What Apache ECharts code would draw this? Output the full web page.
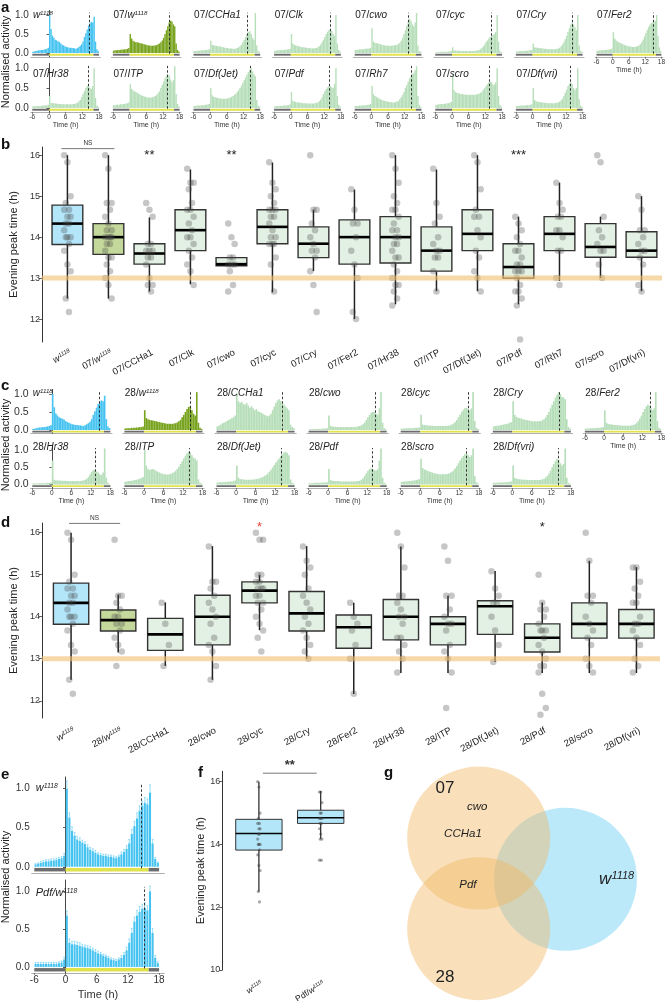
<!DOCTYPE html>
<html><head><meta charset="utf-8">
<script src="https://cdn.jsdelivr.net/npm/echarts@6/dist/echarts.min.js"></script>
<style>html,body{margin:0;padding:0;background:#fff}#c{width:668px;height:1001px}</style>
</head><body><div id="c"></div>
<script>
// ================= DATA =================
// 30-min activity bins from -6 h to 18 h (48 bins)
const binCentres = Array.from({length: 48}, (_, i) => -5.75 + 0.5 * i);
const xTickVals = [-6, 0, 6, 12, 18];
const yTickVals = [0, 0.5, 1];
const ldPhases = [[-6, 0, 0], [0, 16, 1], [16, 18, 0]]; // start, end, light?

const act_w1118 = [0.03,0.04,0.05,0.06,0.07,0.07,0.08,0.08,0.09,0.10,0.11,0.14, 1.00,0.63,0.46,0.40,0.35,0.33,0.31,0.29,0.25,0.22,0.20,0.18, 0.16,0.15,0.14,0.14,0.13,0.13,0.12,0.11,0.13,0.16,0.19,0.23, 0.30,0.42,0.52,0.62,0.72,0.78,0.82,0.80,0.95,0.30,0.10,0.05];
const act07_w1118 = [0.06,0.07,0.07,0.08,0.08,0.08,0.09,0.09,0.10,0.10,0.11,0.13, 0.50,0.38,0.32,0.30,0.28,0.28,0.27,0.26,0.25,0.24,0.23,0.22, 0.21,0.20,0.20,0.19,0.19,0.20,0.20,0.21,0.23,0.25,0.28,0.33, 0.40,0.50,0.60,0.70,0.80,0.85,0.83,0.75,0.70,0.25,0.08,0.04];
const act07_CCHa1 = [0.05,0.05,0.06,0.06,0.06,0.07,0.07,0.07,0.08,0.08,0.09,0.10, 0.32,0.22,0.20,0.20,0.19,0.18,0.18,0.17,0.16,0.15,0.14,0.13, 0.13,0.12,0.12,0.12,0.11,0.11,0.12,0.13,0.15,0.18,0.22,0.28, 0.35,0.42,0.50,0.55,0.57,0.50,0.40,0.35,1.05,0.20,0.06,0.03];
const act07_Clk = [0.06,0.06,0.07,0.07,0.07,0.08,0.08,0.08,0.09,0.09,0.10,0.11, 0.50,0.25,0.22,0.20,0.19,0.18,0.17,0.16,0.15,0.15,0.14,0.14, 0.13,0.13,0.12,0.12,0.12,0.13,0.13,0.15,0.18,0.22,0.28,0.35, 0.42,0.50,0.56,0.60,0.62,0.58,0.50,0.45,1.00,0.25,0.08,0.04];
const act07_cwo = [0.08,0.08,0.09,0.09,0.10,0.10,0.10,0.11,0.11,0.12,0.12,0.14, 0.65,0.30,0.27,0.26,0.25,0.24,0.23,0.22,0.21,0.20,0.20,0.19, 0.19,0.19,0.19,0.20,0.20,0.21,0.22,0.24,0.27,0.32,0.40,0.50, 0.60,0.72,0.82,0.90,0.85,0.75,0.70,0.80,1.05,0.20,0.05,0.03];
const act07_cyc = [0.02,0.02,0.02,0.03,0.03,0.03,0.03,0.03,0.03,0.04,0.04,0.05, 0.15,0.07,0.06,0.06,0.06,0.06,0.05,0.05,0.05,0.05,0.05,0.05, 0.05,0.05,0.05,0.05,0.06,0.06,0.07,0.08,0.10,0.13,0.17,0.22, 0.28,0.33,0.38,0.42,0.45,0.47,0.50,0.55,1.00,0.30,0.06,0.02];
const act07_Cry = [0.04,0.04,0.05,0.05,0.05,0.05,0.06,0.06,0.06,0.07,0.07,0.08, 0.25,0.15,0.14,0.14,0.13,0.13,0.12,0.12,0.11,0.11,0.10,0.10, 0.10,0.10,0.10,0.10,0.10,0.11,0.12,0.14,0.17,0.22,0.28,0.36, 0.45,0.55,0.65,0.75,0.80,0.75,0.68,0.60,1.00,0.20,0.06,0.03];
const act07_Fer2 = [0.06,0.06,0.07,0.07,0.07,0.08,0.08,0.08,0.09,0.09,0.10,0.12, 0.55,0.38,0.33,0.30,0.28,0.26,0.25,0.23,0.22,0.20,0.19,0.18, 0.17,0.17,0.16,0.16,0.16,0.17,0.18,0.20,0.23,0.28,0.35,0.43, 0.52,0.60,0.68,0.74,0.78,0.80,0.82,0.85,1.00,0.45,0.15,0.05];
const act07_Hr38 = [0.04,0.04,0.04,0.05,0.05,0.05,0.05,0.06,0.06,0.06,0.07,0.08, 0.30,0.13,0.12,0.12,0.11,0.11,0.10,0.10,0.10,0.10,0.09,0.09, 0.09,0.09,0.09,0.09,0.09,0.10,0.10,0.11,0.13,0.16,0.20,0.27, 0.35,0.42,0.50,0.55,0.55,0.50,0.48,0.55,1.00,0.25,0.06,0.03];
const act07_ITP = [0.07,0.07,0.08,0.08,0.08,0.09,0.09,0.10,0.10,0.11,0.12,0.14, 0.60,0.48,0.44,0.42,0.40,0.38,0.36,0.34,0.32,0.30,0.29,0.28, 0.27,0.26,0.26,0.26,0.27,0.28,0.30,0.33,0.37,0.42,0.50,0.58, 0.66,0.74,0.80,0.85,0.82,0.72,0.65,0.70,1.05,0.35,0.10,0.04];
const act07_DfJet = [0.05,0.05,0.06,0.06,0.06,0.07,0.07,0.07,0.08,0.08,0.09,0.10, 0.50,0.32,0.28,0.27,0.26,0.25,0.24,0.24,0.23,0.23,0.23,0.23, 0.24,0.25,0.26,0.28,0.30,0.33,0.36,0.40,0.45,0.50,0.56,0.63, 0.70,0.77,0.84,0.90,0.96,1.00,0.92,0.85,0.80,0.20,0.06,0.03];
const act07_Pdf = [0.04,0.04,0.05,0.05,0.05,0.05,0.06,0.06,0.06,0.07,0.07,0.09, 0.40,0.18,0.16,0.15,0.14,0.14,0.13,0.13,0.12,0.12,0.12,0.11, 0.11,0.11,0.11,0.11,0.11,0.12,0.13,0.14,0.17,0.21,0.27,0.35, 0.42,0.48,0.52,0.55,0.55,0.52,0.50,0.60,1.00,0.30,0.08,0.03];
const act07_Rh7 = [0.05,0.05,0.05,0.06,0.06,0.06,0.07,0.07,0.07,0.08,0.08,0.10, 0.55,0.35,0.30,0.28,0.26,0.24,0.22,0.20,0.19,0.18,0.17,0.16, 0.15,0.15,0.14,0.14,0.14,0.15,0.16,0.18,0.22,0.27,0.33,0.40, 0.50,0.58,0.66,0.74,0.80,0.85,0.88,0.95,1.05,0.30,0.08,0.03];
const act07_scro = [0.08,0.08,0.09,0.09,0.10,0.10,0.10,0.11,0.11,0.12,0.13,0.15, 0.85,0.45,0.40,0.38,0.37,0.36,0.35,0.35,0.34,0.34,0.33,0.33, 0.33,0.33,0.33,0.33,0.33,0.34,0.35,0.36,0.38,0.41,0.45,0.50, 0.55,0.60,0.64,0.66,0.65,0.60,0.58,0.65,1.00,0.30,0.08,0.04];
const act07_Dfvri = [0.05,0.05,0.05,0.06,0.06,0.06,0.06,0.07,0.07,0.07,0.08,0.09, 0.50,0.20,0.17,0.16,0.15,0.15,0.14,0.14,0.13,0.13,0.12,0.12, 0.12,0.12,0.12,0.12,0.12,0.13,0.14,0.16,0.19,0.23,0.30,0.38, 0.46,0.55,0.60,0.65,0.60,0.50,0.45,0.50,1.00,0.22,0.06,0.03];

const act28_w1118 = [0.04,0.05,0.05,0.05,0.06,0.06,0.06,0.07,0.07,0.08,0.08,0.10, 0.55,0.33,0.30,0.28,0.27,0.26,0.25,0.24,0.23,0.22,0.21,0.20, 0.19,0.18,0.17,0.17,0.17,0.17,0.18,0.19,0.21,0.24,0.28,0.35, 0.42,0.50,0.58,0.64,0.65,0.55,0.45,0.40,1.05,0.20,0.06,0.03];
const act28_CCHa1 = [0.10,0.12,0.15,0.18,0.20,0.22,0.25,0.28,0.30,0.33,0.35,0.40, 1.00,0.80,0.75,0.78,0.72,0.70,0.75,0.68,0.62,0.66,0.60,0.55, 0.58,0.52,0.50,0.48,0.45,0.42,0.40,0.38,0.40,0.45,0.55,0.65, 0.75,0.82,0.85,0.80,0.75,0.70,0.65,0.60,0.55,0.15,0.08,0.05];
const act28_cwo = [0.02,0.02,0.02,0.03,0.03,0.03,0.03,0.03,0.04,0.04,0.04,0.05, 0.40,0.12,0.10,0.09,0.09,0.08,0.08,0.08,0.08,0.08,0.08,0.08, 0.08,0.08,0.08,0.08,0.08,0.09,0.10,0.11,0.13,0.16,0.21,0.28, 0.35,0.42,0.48,0.50,0.50,0.45,0.42,0.60,1.05,0.20,0.05,0.02];
const act28_cyc = [0.04,0.04,0.04,0.05,0.05,0.05,0.05,0.05,0.06,0.06,0.06,0.07, 0.42,0.15,0.14,0.13,0.13,0.12,0.12,0.12,0.11,0.11,0.11,0.11, 0.11,0.11,0.11,0.11,0.12,0.12,0.13,0.15,0.18,0.22,0.28,0.35, 0.42,0.50,0.56,0.60,0.62,0.58,0.55,0.60,1.05,0.25,0.06,0.03];
const act28_Cry = [0.10,0.11,0.12,0.12,0.13,0.14,0.15,0.16,0.17,0.18,0.20,0.22, 0.80,0.42,0.36,0.34,0.33,0.32,0.30,0.29,0.28,0.27,0.26,0.25, 0.24,0.24,0.24,0.24,0.24,0.25,0.27,0.30,0.35,0.42,0.50,0.60, 0.70,0.80,0.90,0.98,1.05,1.00,0.92,0.90,0.85,0.30,0.08,0.04];
const act28_Fer2 = [0.04,0.04,0.04,0.05,0.05,0.05,0.05,0.06,0.06,0.06,0.07,0.08, 0.55,0.20,0.17,0.16,0.15,0.15,0.14,0.14,0.13,0.13,0.12,0.12, 0.12,0.12,0.12,0.12,0.12,0.13,0.14,0.16,0.20,0.25,0.32,0.40, 0.50,0.58,0.65,0.70,0.68,0.60,0.55,0.60,1.05,0.25,0.06,0.03];
const act28_Hr38 = [0.03,0.03,0.03,0.03,0.04,0.04,0.04,0.04,0.04,0.05,0.05,0.06, 0.70,0.14,0.12,0.12,0.12,0.11,0.11,0.11,0.11,0.10,0.10,0.10, 0.10,0.10,0.10,0.10,0.10,0.10,0.11,0.12,0.14,0.17,0.22,0.30, 0.37,0.42,0.42,0.38,0.35,0.30,0.28,0.35,1.05,0.20,0.05,0.02];
const act28_ITP = [0.08,0.09,0.10,0.10,0.11,0.12,0.13,0.14,0.15,0.17,0.19,0.22, 1.00,0.55,0.45,0.42,0.44,0.45,0.43,0.40,0.37,0.35,0.33,0.31, 0.30,0.29,0.29,0.30,0.31,0.33,0.36,0.40,0.45,0.52,0.60,0.68, 0.76,0.84,0.90,0.95,0.93,0.85,0.78,0.75,0.70,0.15,0.05,0.03];
const act28_DfJet = [0.06,0.06,0.07,0.07,0.07,0.08,0.08,0.08,0.09,0.09,0.10,0.12, 0.55,0.20,0.16,0.15,0.15,0.14,0.14,0.14,0.14,0.14,0.15,0.15, 0.16,0.17,0.18,0.20,0.22,0.25,0.28,0.32,0.37,0.43,0.50,0.57, 0.64,0.70,0.76,0.82,0.88,0.93,0.95,0.92,0.85,0.15,0.05,0.03];
const act28_Pdf = [0.04,0.04,0.04,0.05,0.05,0.05,0.05,0.05,0.06,0.06,0.06,0.07, 0.45,0.13,0.11,0.10,0.10,0.10,0.10,0.09,0.09,0.09,0.09,0.09, 0.09,0.09,0.09,0.09,0.09,0.10,0.10,0.11,0.14,0.18,0.25,0.33, 0.40,0.45,0.47,0.45,0.42,0.40,0.45,0.70,1.05,0.20,0.05,0.02];
const act28_scro = [0.08,0.08,0.09,0.09,0.10,0.10,0.11,0.11,0.12,0.13,0.14,0.16, 0.75,0.48,0.44,0.42,0.40,0.38,0.36,0.35,0.33,0.32,0.31,0.30, 0.30,0.30,0.30,0.30,0.31,0.32,0.34,0.37,0.41,0.47,0.54,0.62, 0.70,0.77,0.83,0.88,0.90,0.85,0.80,0.85,1.05,0.25,0.07,0.03];
const act28_Dfvri = [0.05,0.05,0.05,0.06,0.06,0.06,0.06,0.07,0.07,0.07,0.08,0.09, 0.55,0.20,0.17,0.16,0.15,0.15,0.14,0.14,0.14,0.13,0.13,0.13, 0.13,0.13,0.13,0.13,0.13,0.14,0.15,0.17,0.20,0.25,0.32,0.40, 0.50,0.60,0.68,0.75,0.72,0.62,0.55,0.60,1.05,0.20,0.05,0.02];

const actPdf_w1118 = [0.04,0.04,0.04,0.04,0.04,0.04,0.04,0.04,0.04,0.05,0.06,0.10, 0.68,0.32,0.30,0.30,0.29,0.28,0.27,0.26,0.25,0.24,0.22,0.20, 0.18,0.17,0.15,0.14,0.12,0.10,0.09,0.08,0.10,0.12,0.16,0.22, 0.32,0.45,0.60,0.68,0.73,0.77,0.78,0.75,1.00,0.45,0.12,0.05];
const err_w1118 = [0.01,0.01,0.02,0.02,0.02,0.02,0.02,0.02,0.02,0.02,0.02,0.03, 0.10,0.06,0.05,0.04,0.04,0.04,0.03,0.03,0.03,0.03,0.03,0.03, 0.02,0.02,0.02,0.02,0.02,0.02,0.02,0.02,0.02,0.03,0.03,0.04, 0.05,0.06,0.06,0.07,0.06,0.06,0.07,0.07,0.10,0.05,0.02,0.01];
const errPdf_w1118 = [0.02,0.02,0.02,0.02,0.02,0.02,0.02,0.02,0.02,0.02,0.02,0.03, 0.06,0.05,0.04,0.04,0.04,0.04,0.03,0.03,0.03,0.03,0.03,0.03, 0.03,0.02,0.02,0.02,0.02,0.02,0.02,0.02,0.02,0.03,0.03,0.04, 0.05,0.06,0.06,0.07,0.07,0.06,0.07,0.06,0.07,0.06,0.03,0.02];

const aNames = ['w1118','07/w1118','07/CCHa1','07/Clk','07/cwo','07/cyc','07/Cry','07/Fer2','07/Hr38','07/ITP','07/Df(Jet)','07/Pdf','07/Rh7','07/scro','07/Df(vri)'];
const aProfiles = [act_w1118, act07_w1118, act07_CCHa1, act07_Clk, act07_cwo, act07_cyc, act07_Cry, act07_Fer2, act07_Hr38, act07_ITP, act07_DfJet, act07_Pdf, act07_Rh7, act07_scro, act07_Dfvri];
const aPeaks = [14.6, 14.1, 13.3, 14.3, 13.4, 14.3, 14.2, 15.0, 14.1, 13.6, 14.3, 13.7, 14.3, 13.4, 13.6];

const cNames = ['w1118','28/w1118','28/CCHa1','28/cwo','28/cyc','28/Cry','28/Fer2','28/Hr38','28/ITP','28/Df(Jet)','28/Pdf','28/scro','28/Df(vri)'];
const cProfiles = [act_w1118, act28_w1118, act28_CCHa1, act28_cwo, act28_cyc, act28_Cry, act28_Fer2, act28_Hr38, act28_ITP, act28_DfJet, act28_Pdf, act28_scro, act28_Dfvri];
const cPeaks = [14.5, 14.2, 14.2, 14.6, 14.7, 14.4, 14.5, 13.3, 14.0, 14.0, 13.6, 14.2, 14.2];

const eNames = ['w1118', 'Pdf/w1118'];
const eProfiles = [act_w1118, actPdf_w1118];
const eErrors = [err_w1118, errPdf_w1118];
const ePeaks = [14.65, 15.1];

// Box plots: [lower whisker, Q1, median, Q3, upper whisker]
const bNames = aNames;
const bBoxes = [[12.5,13.82,14.33,14.78,16.0],[12.5,13.58,14.0,14.33,16.0],[12.67,13.34,13.6,13.84,14.48],[12.85,13.67,14.17,14.67,15.65],[13.3,13.3,13.34,13.5,13.5],[12.65,13.84,14.25,14.67,15.82],[13.17,13.5,13.84,14.25,14.67],[12.0,13.34,14.0,14.42,15.16],[12.36,13.37,14.0,14.5,16.0],[12.68,13.17,13.67,14.25,15.65],[12.68,13.67,14.08,14.67,16.0],[12.36,13.0,13.27,13.84,14.5],[12.93,13.67,14.08,14.5,15.33],[13.0,13.51,13.76,14.33,14.5],[12.68,13.51,13.67,14.13,15.0]];
const pts_w1118 = [16.0,15.83,15.0,14.83,14.67,14.67,14.5,14.5,14.33,14.33,14.17,14.0,14.0,14.0,13.83,13.67,13.33,13.17,12.5,12.17];
const bPoints = [
  pts_w1118,
  [16.0,15.67,14.83,14.83,14.67,14.5,14.33,14.17,14.17,14.0,14.0,14.0,14.0,13.83,13.83,13.67,13.5,13.5,13.33,13.17,13.0,12.83,12.5],
  [14.83,14.67,14.5,13.83,13.83,13.67,13.67,13.67,13.5,13.5,13.33,13.0,12.83,12.83,12.67],
  [15.67,15.33,15.33,15.17,14.83,14.67,14.67,14.5,14.33,14.17,14.0,14.0,13.83,13.67,13.5,13.33,13.17,12.83],
  [14.33,14.0,13.83,13.5,13.5,13.33,13.33,13.33,13.17,12.83,12.67],
  [15.83,15.33,15.17,15.0,14.83,14.67,14.67,14.67,14.5,14.5,14.33,14.17,14.0,14.0,13.83,13.83,13.83,13.5,13.33,12.67],
  [16.0,14.67,14.67,14.33,14.17,14.0,13.83,13.67,13.67,13.5,13.17,12.83,12.17],
  [15.17,14.67,14.33,14.33,14.0,13.67,13.33,13.0,12.17,12.0],
  [16.0,15.67,15.33,15.0,14.83,14.67,14.67,14.5,14.33,14.17,14.17,14.0,14.0,13.83,13.83,13.67,13.5,13.5,13.33,13.17,13.0,12.83,12.83,12.67,12.5,12.33],
  [15.67,14.83,14.5,14.33,14.0,13.83,13.67,13.67,13.5,13.5,13.17,12.67],
  [16.0,15.83,15.17,14.67,14.5,14.5,14.17,14.0,13.67,13.5,13.17,13.0,12.67],
  [14.5,14.33,14.17,14.0,13.83,13.67,13.67,13.5,13.33,13.33,13.17,13.17,13.17,13.0,12.83,12.67,12.67,12.5,12.33,11.5],
  [15.33,14.83,14.67,14.5,14.5,14.17,14.17,14.0,13.67,13.67,13.0,12.83],
  [16.0,15.83,14.5,14.17,14.0,13.83,13.67,13.67,13.33,13.0],
  [15.0,14.67,14.17,14.17,14.0,13.83,13.67,13.67,13.5,13.33,12.83,12.67]
];
const bSigRanges = [[0,1],[2,2],[4,4],[11,11]];
const bSigText = ['NS','**','**','***'];
const bSigY = [16.16, 16.07, 16.07, 16.07];

const dNames = ['w1118','28/w1118','28/CCHa1','28/cwo','28/cyc','28/Cry','28/Fer2','28/Hr38','28/ITP','28/Df(Jet)','28/Pdf','28/scro','28/Df(vri)'];
const dBoxes = [[12.5,13.82,14.33,14.8,16.0],[13.15,13.66,13.92,14.16,14.53],[12.83,13.2,13.58,13.96,14.34],[12.5,13.33,14.0,14.51,15.68],[13.68,14.33,14.62,14.83,14.99],[13.0,13.66,14.08,14.6,15.68],[12.16,13.25,13.75,14.04,14.33],[12.66,13.45,14.0,14.41,15.67],[12.66,13.33,13.83,14.0,14.5],[12.93,13.58,14.25,14.38,15.09],[12.66,13.16,13.5,13.83,14.34],[12.66,13.49,13.83,14.33,15.33],[12.66,13.49,13.83,14.17,15.18]];
const dPoints = [
  pts_w1118,
  [15.83,14.5,14.5,14.33,14.17,14.0,14.0,13.83,13.83,13.67,13.5,13.33,13.17,12.83],
  [14.33,13.83,13.33,12.83],
  [15.67,14.83,14.83,14.67,14.5,14.33,14.17,14.0,13.83,13.5,13.33,13.17,12.83,12.5],
  [16.0,15.83,15.83,15.0,15.0,14.83,14.83,14.67,14.67,14.67,14.5,14.5,14.33,14.33,14.17,14.0,13.83,13.67,13.5,13.17],
  [15.67,15.33,15.17,15.0,14.67,14.5,14.33,14.17,14.0,13.83,13.67,13.5,13.33,13.17,13.0],
  [14.33,14.0,13.83,13.67,13.33,13.0,12.17],
  [16.0,15.67,15.17,14.5,14.5,14.33,14.17,14.0,14.0,13.83,13.5,13.5,13.33,13.17,13.0,12.67],
  [15.67,15.33,14.5,14.5,14.17,14.0,13.83,13.83,13.67,13.33,13.17,13.0,12.67,11.83],
  [15.08,14.67,14.5,14.33,14.33,14.0,13.67,13.33,12.92],
  [15.0,14.33,14.17,14.17,14.0,13.83,13.67,13.67,13.67,13.5,13.33,13.17,13.0,12.83,12.83,12.67,12.17,11.83,11.67],
  [16.0,15.33,14.5,14.5,14.33,14.0,13.83,13.67,13.5,13.33,13.0,12.83,12.67],
  [15.17,15.17,14.83,14.67,14.5,14.33,14.33,14.0,13.83,13.83,13.67,13.5,13.33,13.0,12.83,12.67]
];
const dSigRanges = [[0,1],[4,4],[10,10]];
const dSigText = ['NS','*','*'];
const dSigY = [16.22, 16.2, 16.2];
const dSigColor = ['#333','#e8423a','#222'];

const fNames = ['w1118','Pdf/w1118'];
const fBoxes = [[12.5,13.82,14.35,14.8,16.0],[14.18,14.67,14.85,15.09,15.7]];
const fPoints = [pts_w1118, [15.67,15.67,15.33,15.0,15.0,14.83,14.83,14.83,14.67,14.67,14.5,14.33,14.17,14.17,13.5,13.5]];
const fSigRanges = [[0,1]];
const fSigText = ['**'];
const fSigY = [16.27];

const refLineHour = 13;

// Venn (units of circle radius)
const vennSets = ['w1118','07','28'];
const vennCentres = [[1.214,0.057],[0,0.634],[0,-0.634]];
const vennRadius = [1.0, 1.0, 1.0];
const vennLabels = ['07','cwo','CCHa1','Pdf','w1118','28'];
const vennLabelPos = [[-0.47,1.33],[-0.02,1.07],[-0.22,0.69],[-0.15,-0.02],[1.93,0.06],[-0.47,-1.31]];

// ================= BUILD =================
const FONT = '"Liberation Sans", Arial, Helvetica, sans-serif';
const grids = [], xAxis = [], yAxis = [], series = [], graphic = [];

function isWild(n){ return n === 'w1118' || n === 'Pdf/w1118'; }
function isCtrl(n){ return /^\d\d\/w1118$/.test(n); }
function barColor(n){ return isWild(n) ? '#46c3f0' : isCtrl(n) ? '#78a31e' : '#b6deb9'; }
function boxFill(n){ return isWild(n) ? '#b4e6fa' : isCtrl(n) ? '#c4d89b' : '#e3f1e4'; }

function richStyles(fs){
  return {
    n:{fontSize:fs, fontFamily:FONT, fill:'#222', color:'#222'},
    i:{fontSize:fs, fontFamily:FONT, fontStyle:'italic', fill:'#222', color:'#222'},
    s:{fontSize:Math.round(fs*0.62*10)/10, fontFamily:FONT, fontStyle:'italic', fill:'#222', color:'#222', verticalAlign:'top'}
  };
}
function richTitle(name){
  let pre = '', gene = name;
  const k = name.indexOf('/');
  if (k >= 0){ pre = name.slice(0,k+1); gene = name.slice(k+1); }
  let s = pre ? (/^\d+\/$/.test(pre) ? '{n|'+pre+'}' : '{i|'+pre+'}') : '';
  s += gene === 'w1118' ? '{i|w}{s|1118}' : '{i|'+gene+'}';
  return s;
}
function richCat(name){
  if (name.endsWith('w1118')){
    const pre = name.slice(0, name.length-5);
    return (pre ? '{n|'+pre+'}' : '') + '{i|w}{s|1118}';
  }
  return '{n|'+name+'}';
}

function hist(o){
  const gi = grids.length;
  grids.push({left:o.left, top:o.top, width:o.width, height:o.height});
  const binPx = o.width / (o.xMax + 6.5) * 0.5;
  xAxis.push({gridIndex:gi, type:'value', min:-6.5, max:o.xMax,
    axisLine:{show:true, onZero:false, lineStyle:{color:'#777', width:0.6}},
    axisTick:{show:o.showX, length:2, customValues:xTickVals, lineStyle:{color:'#555', width:0.7}},
    axisLabel:{show:o.showX, customValues:xTickVals, fontSize:o.xFont, margin:o.xMargin, color:'#333', fontFamily:FONT},
    splitLine:{show:false},
    name:o.showX ? 'Time (h)' : '', nameLocation:'middle', nameGap:o.nameGap,
    nameTextStyle:{fontSize:o.nameFont, color:'#333', fontFamily:FONT}});
  yAxis.push({gridIndex:gi, type:'value', min:o.yMin, max:o.yMax,
    axisLine:{show:o.showY, lineStyle:{color:'#333', width:0.9}},
    axisTick:{show:o.showY, length:2.5, customValues:yTickVals, lineStyle:{color:'#333', width:0.8}},
    axisLabel:{show:o.showY, customValues:yTickVals, formatter:v => v.toFixed(1), fontSize:o.yFont, margin:2, color:'#333', fontFamily:FONT},
    splitLine:{show:false}});
  series.push({type:'bar', xAxisIndex:gi, yAxisIndex:gi, silent:true, barWidth:Math.max(binPx*o.barFrac, 0.9), barGap:'-100%',
    data:o.data.map((v,i) => [binCentres[i], v]), itemStyle:{color:barColor(o.name)}, z:2,
    markLine:{silent:true, symbol:'none', animation:false, label:{show:false}, lineStyle:{type:[2.5,2], color:'#222', width:0.9},
      data:[[{coord:[o.peak, -0.02]},{coord:[o.peak, 1.06]}]]}});
  if (o.errs){
    series.push({type:'custom', xAxisIndex:gi, yAxisIndex:gi, silent:true, z:3,
      data:o.errs.map((e,i) => [binCentres[i], o.data[i], e]),
      renderItem:(p, api) => {
        const a = api.coord([api.value(0), api.value(1)]);
        const b = api.coord([api.value(0), api.value(1) + api.value(2)]);
        const w = binPx*0.35;
        return {type:'group', children:[
          {type:'line', shape:{x1:a[0], y1:a[1], x2:b[0], y2:b[1]}, style:{stroke:'#7fd4f5', lineWidth:0.8}},
          {type:'line', shape:{x1:b[0]-w, y1:b[1], x2:b[0]+w, y2:b[1]}, style:{stroke:'#7fd4f5', lineWidth:0.8}}]};
      }});
  }
  series.push({type:'custom', xAxisIndex:gi, yAxisIndex:gi, silent:true, z:4, data:ldPhases,
    renderItem:(p, api) => {
      const a = api.coord([api.value(0), o.ldTop]);
      const b = api.coord([api.value(1), o.ldBottom]);
      return {type:'rect', shape:{x:a[0], y:a[1], width:b[0]-a[0], height:b[1]-a[1]},
        style:{fill: api.value(2) ? '#e2e24c' : '#6c6c6c'}};
    }});
  graphic.push({type:'text', x:o.left + o.titleDx, y:o.titleY, z:100, silent:true,
    style:{text:richTitle(o.name), rich:richStyles(o.titleFont), fontSize:o.titleFont, fontFamily:FONT, fill:'#222', align:'left', verticalAlign:'middle'}});
}

// ---- panel a ----
aNames.forEach((n, k) => {
  const row = k < 8 ? 0 : 1, col = k < 8 ? k : k - 8;
  hist({name:n, data:aProfiles[k], peak:aPeaks[k],
    left:30.9 + 80.6*col, top: row ? 63.5 : 10.4, width:69.5, height: row ? 48.4 : 46.4,
    xMax:18.5, yMin:-0.1, yMax:1.12, ldTop:-0.02, ldBottom:-0.07, barFrac:1.0,
    showY: col === 0, showX: row === 1 || k === 7,
    xFont:6.5, xMargin:1.5, nameFont:7, nameGap:8.5, yFont:10,
    titleY: row ? 74 : 15, titleDx:2, titleFont:10});
});
// ---- panel c ----
cNames.forEach((n, k) => {
  const row = k < 7 ? 0 : 1, col = k < 7 ? k : k - 7;
  hist({name:n, data:cProfiles[k], peak:cPeaks[k],
    left:30.7 + 92.1*col, top: row ? 446 : 389.6, width:81.3, height: row ? 42 : 44,
    xMax:18.5, yMin:-0.1, yMax:1.12, ldTop:-0.02, ldBottom:-0.07, barFrac:1.0,
    showY: col === 0, showX: row === 1 || k === 6,
    xFont:6.5, xMargin:1.5, nameFont:7, nameGap:9, yFont:10.5,
    titleY: row ? 447 : 393, titleDx:2, titleFont:10});
});
// ---- panel e ----
eNames.forEach((n, k) => {
  hist({name:n, data:eProfiles[k], errs:eErrors[k], peak:ePeaks[k],
    left:31.7, top: k ? 880 : 777, width:132.6, height: k ? 100 : 96,
    xMax:19, yMin:-0.08, yMax:1.15, ldTop:-0.015, ldBottom:-0.06, barFrac:0.8,
    showY:true, showX: k === 1,
    xFont:10, xMargin:2, nameFont:11, nameGap:16, yFont:10,
    titleY: k ? 893 : 788, titleDx:4, titleFont:11});
});

// ---- box panels ----
function boxPanel(o){
  const gi = grids.length;
  grids.push({left:o.left, top:o.top, width:o.width, height:o.height});
  xAxis.push({gridIndex:gi, type:'category', data:o.names, axisLine:{show:false}, axisTick:{show:false}, axisLabel:{show:false}, splitLine:{show:false}});
  yAxis.push({gridIndex:gi, type:'value', min:o.min, max:o.max, offset:o.offset,
    axisLine:{show:true, lineStyle:{color:'#333', width:1}},
    axisTick:{show:true, length:3, customValues:o.ticks, lineStyle:{color:'#333', width:0.8}},
    axisLabel:{customValues:o.ticks, fontSize:9, color:'#333', margin:2, fontFamily:FONT},
    splitLine:{show:false},
    name:'Evening peak time (h)', nameLocation:'middle', nameGap:o.nameGap,
    nameTextStyle:{fontSize:11, color:'#222', fontFamily:FONT}});
  // boxes
  series.push({type:'custom', xAxisIndex:gi, yAxisIndex:gi, silent:true, z:2, clip:false,
    data:o.boxes.map((b,i) => [i].concat(b)),
    renderItem:(p, api) => {
      const x = api.value(0);
      const lo = api.coord([x, api.value(1)]), q1 = api.coord([x, api.value(2)]), md = api.coord([x, api.value(3)]),
            q3 = api.coord([x, api.value(4)]), hi = api.coord([x, api.value(5)]);
      const half = api.size([1, 0])[0] * o.boxFrac / 2;
      const cx = lo[0];
      return {type:'group', children:[
        {type:'line', shape:{x1:cx, y1:lo[1], x2:cx, y2:q1[1]}, style:{stroke:'#222', lineWidth:o.wLw}},
        {type:'line', shape:{x1:cx, y1:q3[1], x2:cx, y2:hi[1]}, style:{stroke:'#222', lineWidth:o.wLw}},
        {type:'rect', shape:{x:cx-half, y:q3[1], width:2*half, height:Math.max(q1[1]-q3[1], 1)},
          style:{fill:boxFill(o.names[p.dataIndex]), stroke:'#333', lineWidth:o.bLw}},
        {type:'line', shape:{x1:cx-half, y1:md[1], x2:cx+half, y2:md[1]}, style:{stroke:'#000', lineWidth:o.mLw}}
      ]};
    }});
  // jittered points
  const pts = [];
  o.points.forEach((arr, i) => arr.forEach((v, j) => {
    pts.push({value:[i, v], symbolOffset:[((j*7) % 5 - 2) * o.jit, 0]});
  }));
  series.push({type:'scatter', xAxisIndex:gi, yAxisIndex:gi, silent:true, z:3, data:pts, symbolSize:o.ptSize,
    itemStyle:{color:o.ptColor}});
  // reference line
  if (o.refLine){
    series.push({type:'custom', xAxisIndex:gi, yAxisIndex:gi, silent:true, z:4, data:[[0, refLineHour]],
      renderItem:(p, api) => {
        const y = api.coord([0, api.value(1)])[1];
        const cs = p.coordSys;
        return {type:'line', shape:{x1:cs.x - o.offset, y1:y, x2:cs.x + cs.width, y2:y},
          style:{stroke:'rgba(242,190,110,0.6)', lineWidth:5}};
      }});
  }
  // significance
  series.push({type:'custom', xAxisIndex:gi, yAxisIndex:gi, silent:true, z:5, clip:false,
    data:o.sigRanges.map((r,i) => [r[0], r[1], o.sigY[i]]),
    renderItem:(p, api) => {
      const i = p.dataIndex;
      const a = api.coord([api.value(0), api.value(2)]), b = api.coord([api.value(1), api.value(2)]);
      if (api.value(0) !== api.value(1)){
        const big = o.sigText[i] !== 'NS';
        return {type:'group', children:[
          {type:'line', shape:{x1:a[0]-o.sigPad, y1:a[1], x2:b[0]+o.sigPad, y2:b[1]}, style:{stroke:'#555', lineWidth:0.8}},
          {type:'text', x:(a[0]+b[0])/2, y:a[1] - (big ? 1 : 2), style:{text:o.sigText[i], fontSize: big ? 13 : 6.5, fontWeight: big ? 'bold' : 'normal',
            fill:'#333', align:'center', verticalAlign:'bottom', fontFamily:FONT}}]};
      }
      return {type:'text', x:a[0], y:a[1] + 3, style:{text:o.sigText[i], fontSize:13, fill:(o.sigColor ? o.sigColor[i] : '#222'),
        align:'center', verticalAlign:'middle', fontFamily:FONT}};
    }});
  // category labels (rotated)
  series.push({type:'custom', xAxisIndex:gi, yAxisIndex:gi, silent:true, z:5, clip:false,
    data:o.names.map((n,i) => [i, o.min]),
    renderItem:(p, api) => {
      const a = api.coord([api.value(0), api.value(1)]);
      return {type:'text', x:a[0] + o.labDx, y:a[1] + o.labDy, rotation:o.labRot * Math.PI / 180,
        style:{text:richCat(o.names[p.dataIndex]), rich:richStyles(o.labFont), fontSize:o.labFont, fontFamily:FONT,
          fill:'#333', align:'right', verticalAlign:'middle'}};
    }});
}

boxPanel({names:bNames, boxes:bBoxes, points:bPoints, left:38, top:147, width:624, height:195, min:11.44, max:16.2,
  ticks:[12,13,14,15,16], offset:5, nameGap:22, boxFrac:0.75, wLw:1.5, bLw:1.4, mLw:2.6, ptSize:6.5,
  ptColor:'rgba(70,70,70,0.38)', jit:1.6, refLine:true, sigRanges:bSigRanges, sigText:bSigText, sigY:bSigY, sigPad:6,
  labDx:3, labDy:10, labRot:28, labFont:9.5});
boxPanel({names:dNames, boxes:dBoxes, points:dPoints, left:38.6, top:523, width:621.4, height:195, min:11.59, max:16.23,
  ticks:[12,13,14,15,16], offset:5.6, nameGap:22, boxFrac:0.75, wLw:1.5, bLw:1.4, mLw:2.6, ptSize:6.5,
  ptColor:'rgba(70,70,70,0.38)', jit:1.8, refLine:true, sigRanges:dSigRanges, sigText:dSigText, sigY:dSigY, sigColor:dSigColor, sigPad:2,
  labDx:3, labDy:12, labRot:28, labFont:9.5});
boxPanel({names:fNames, boxes:fBoxes, points:fPoints, left:228, top:771.3, width:123.6, height:198.7, min:10, max:16.33,
  ticks:[10,12,14,16], offset:5.7, nameGap:14, boxFrac:0.75, wLw:1.2, bLw:1.0, mLw:1.6, ptSize:3.2,
  ptColor:'rgba(60,60,60,0.55)', jit:0.6, refLine:false, sigRanges:fSigRanges, sigText:fSigText, sigY:fSigY, sigPad:-4,
  labDx:3, labDy:13, labRot:32, labFont:8.5});

// ---- panel g (Venn) ----
(function(){
  const gi = grids.length;
  grids.push({left:400, top:760, width:268, height:241});
  xAxis.push({gridIndex:gi, type:'value', min:-1.1, max:2.648, show:false});
  yAxis.push({gridIndex:gi, type:'value', min:-1.645, max:1.725, show:false});
  const fills = {w1118:'rgba(95,203,242,0.42)', '07':'rgba(240,182,92,0.42)', '28':'rgba(240,182,92,0.42)'};
  series.push({type:'custom', xAxisIndex:gi, yAxisIndex:gi, silent:true, clip:false, z:2,
    data:vennSets.map((s,i) => [vennCentres[i][0], vennCentres[i][1], vennRadius[i]]),
    renderItem:(p, api) => {
      const c = api.coord([api.value(0), api.value(1)]);
      const r = api.size([api.value(2), 0])[0];
      return {type:'circle', shape:{cx:c[0], cy:c[1], r:r}, style:{fill:fills[vennSets[p.dataIndex]]}};
    }});
  series.push({type:'custom', xAxisIndex:gi, yAxisIndex:gi, silent:true, clip:false, z:3,
    data:vennLabelPos.map(p => [p[0], p[1]]),
    renderItem:(p, api) => {
      const c = api.coord([api.value(0), api.value(1)]);
      const name = vennLabels[p.dataIndex];
      const isNum = /^\d+$/.test(name);
      const fs = isNum ? 17 : (name === 'w1118' ? 17 : 11.5);
      const rich = richStyles(fs);
      rich.s.fontSize = 11; rich.s.fontStyle = 'italic';
      return {type:'text', x:c[0], y:c[1], style:{text: isNum ? name : richTitle(name), rich:rich, fontSize:fs, fontFamily:FONT,
        fill:'#222', align:'center', verticalAlign:'middle'}};
    }});
})();

// ---- titles & panel letters ----
[['Normalised activity', 6, 62], ['Normalised activity', 6, 445], ['Normalised activity', 6, 877]].forEach(t => {
  graphic.push({type:'text', x:t[1], y:t[2], rotation:Math.PI/2, silent:true,
    style:{text:t[0], fontSize:11, fontFamily:FONT, fill:'#222', align:'center', verticalAlign:'middle'}});
});
[['a',1,0],['b',1,137],['c',1,378],['d',1,515],['e',1,767],['f',198,765],['g',384,765]].forEach(t => {
  graphic.push({type:'text', x:t[1], y:t[2], silent:true,
    style:{text:t[0], fontSize:15, fontWeight:'bold', fontFamily:FONT, fill:'#111', align:'left', verticalAlign:'top'}});
});

const chart = echarts.init(document.getElementById('c'), null, {renderer:'canvas'});
chart.setOption({animation:false, backgroundColor:'#fff', grid:grids, xAxis:xAxis, yAxis:yAxis, series:series, graphic:graphic, tooltip:{show:false}});
</script>
</body></html>
